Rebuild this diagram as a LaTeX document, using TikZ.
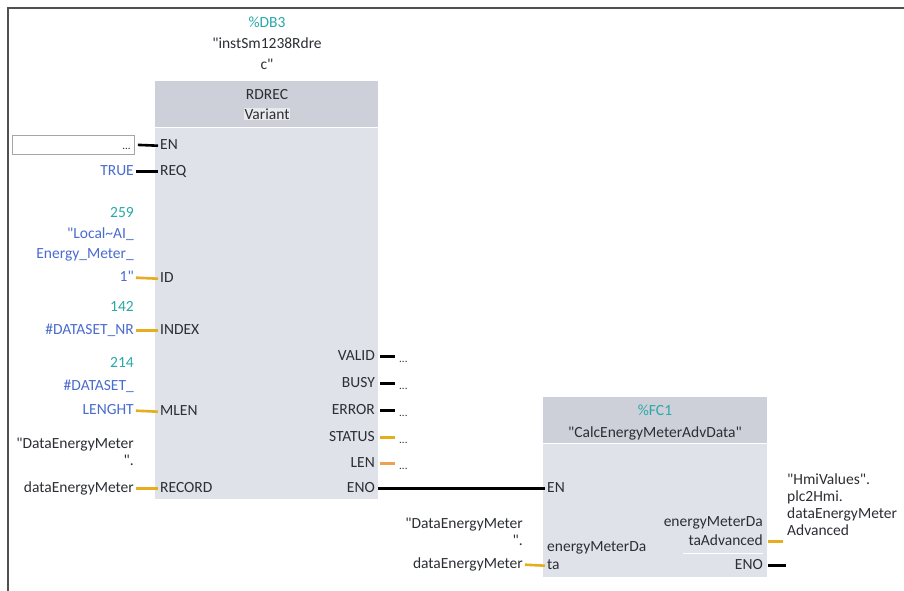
\documentclass[tikz,border=0pt]{standalone}
\usepackage{fontspec}
\setmainfont{Carlito}[Ligatures=TeXOff]
\newcommand{\sq}{"}
\definecolor{txt}{HTML}{2C2E33}
\definecolor{constteal}{HTML}{2AA8A8}
\definecolor{tagblue}{HTML}{4A6CCF}
\definecolor{hdrgray}{HTML}{CDD0D9}
\definecolor{bodygray}{HTML}{E0E2E9}
\definecolor{wireorange}{HTML}{E6AE1E}
\definecolor{wirelen}{HTML}{EFA050}
\definecolor{frame}{HTML}{505050}
\tikzset{
  lbl/.style={font=\fontsize{15.5}{18}\selectfont, text=txt, inner sep=0pt, yshift=-2pt},
  pinl/.style={lbl, anchor=mid west},
  pinr/.style={lbl, anchor=mid east},
  argl/.style={lbl, anchor=mid east},
  argr/.style={lbl, anchor=mid west},
  cst/.style={text=constteal},
  tag/.style={text=tagblue},
  wire/.style={line width=2.6pt, black},
  owire/.style={line width=2.6pt, wireorange},
  lwire/.style={line width=2.6pt, wirelen},
  hdrbox/.style={fill=hdrgray, draw=none, inner sep=0pt, anchor=north west},
  bodybox/.style={fill=bodygray, draw=none, inner sep=0pt, anchor=north west},
  dots/.style={lbl, anchor=mid west, font=\fontsize{11}{13}\selectfont}
}
\begin{document}
\begin{tikzpicture}[x=1pt, y=-1pt]
\useasboundingbox (0,0) rectangle (904,591);
\fill[white] (0,0) rectangle (904,591);
% network frame
\draw[frame, line width=1.6pt] (8,591) -- (8,8) -- (904,8);

% ---------- RDREC instance ----------
\node[hdrbox, minimum width=223pt, minimum height=46pt] (rdHead) at (155,81) {};
\node[bodybox, minimum width=223pt, minimum height=372pt] (rdBody) at (155,127) {};
\draw[white, line width=0.8pt] (rdHead.south west) -- (rdHead.south east);
\node[lbl, cst] (dbNum) at (267,20) {\%DB3};
\node[lbl] (dbName1) at (267,41) {\sq instSm1238Rdre};
\node[lbl] (dbName2) at (267,62) {c\sq};
\node[lbl] (rdType) at (267,93) {RDREC};
\node[lbl, fill=hdrgray!45!white, inner sep=1pt] (rdVar) at (267,112) {Variant};

% input pins
\node[pinl] (pEN) at (160,145) {EN};
\node[pinl] (pREQ) at (160,171) {REQ};
\node[pinl] (pID) at (160,278) {ID};
\node[pinl] (pINDEX) at (160,330) {INDEX};
\node[pinl] (pMLEN) at (160,411) {MLEN};
\node[pinl] (pRECORD) at (160,488) {RECORD};

% output pins
\node[pinr] (pVALID) at (375,356) {VALID};
\node[pinr] (pBUSY) at (375,383) {BUSY};
\node[pinr] (pERROR) at (375,410) {ERROR};
\node[pinr] (pSTATUS) at (375,437) {STATUS};
\node[pinr] (pLEN) at (375,463) {LEN};
\node[pinr] (pENO) at (375,488) {ENO};

% EN operand box
\node[draw=gray!70, fill=white, line width=0.8pt, minimum width=122pt, minimum height=19pt, inner sep=0pt, anchor=north west] (enBox) at (12,135) {};
\node[dots, anchor=mid east] (enDots) at ([xshift=-4pt]enBox.east) {...};

% input operands
\node[argl, tag] (aREQ) at (134,171) {TRUE};
\node[argl, cst] (aID0) at (134,213) {259};
\node[argl, tag] (aID1) at (134,234) {\sq Local\textasciitilde AI\_};
\node[argl, tag] (aID2) at (134,254) {Energy\_Meter\_};
\node[argl, tag] (aID) at (134,277) {1\sq};
\node[argl, cst] (aIDX0) at (134,307) {142};
\node[argl, tag] (aIDX) at (134,330) {\#DATASET\_NR};
\node[argl, cst] (aML0) at (134,363) {214};
\node[argl, tag] (aML1) at (134,386) {\#DATASET\_};
\node[argl, tag] (aML) at (134,410) {LENGHT};
\node[argl] (aRec0) at (134,444) {\sq DataEnergyMeter};
\node[argl] (aRec1) at (134,461) {\sq.};
\node[argl] (aRec) at (134,488) {dataEnergyMeter};

% input wires (raised slightly to the middle of the capitals)
\draw[wire] ([xshift=3pt]enBox.east) -- ([xshift=-2pt,yshift=1.3pt]pEN.mid west);
\draw[wire] ([xshift=2pt,yshift=1.3pt]aREQ.mid east) -- ([xshift=-2pt,yshift=1.3pt]pREQ.mid west);
\draw[owire] ([xshift=2pt,yshift=1.3pt]aID.mid east) -- ([xshift=-2pt,yshift=1.3pt]pID.mid west);
\draw[owire] ([xshift=2pt,yshift=1.3pt]aIDX.mid east) -- ([xshift=-2pt,yshift=1.3pt]pINDEX.mid west);
\draw[owire] ([xshift=2pt,yshift=1.3pt]aML.mid east) -- ([xshift=-2pt,yshift=1.3pt]pMLEN.mid west);
\draw[owire] ([xshift=2pt,yshift=1.3pt]aRec.mid east) -- ([xshift=-2pt,yshift=1.3pt]pRECORD.mid west);

% output stubs
\foreach \p in {VALID,BUSY,ERROR}{
  \draw[wire] ([xshift=5pt,yshift=1.3pt]p\p.mid east) -- ([xshift=20pt,yshift=1.3pt]p\p.mid east);
  \node[dots] (o\p) at ([xshift=24pt]p\p.mid east) {...};
}
\draw[owire] ([xshift=5pt,yshift=1.3pt]pSTATUS.mid east) -- ([xshift=20pt,yshift=1.3pt]pSTATUS.mid east);
\node[dots] (oSTATUS) at ([xshift=24pt]pSTATUS.mid east) {...};
\draw[lwire] ([xshift=5pt,yshift=1.3pt]pLEN.mid east) -- ([xshift=20pt,yshift=1.3pt]pLEN.mid east);
\node[dots] (oLEN) at ([xshift=24pt]pLEN.mid east) {...};

% ---------- CalcEnergyMeterAdvData call ----------
\node[hdrbox, minimum width=224pt, minimum height=46pt] (fcHead) at (543,397) {};
\node[bodybox, minimum width=224pt, minimum height=134pt] (fcBody) at (543,443) {};
\draw[white, line width=0.8pt] (fcHead.south west) -- (fcHead.south east);
\node[lbl, cst] (fcNum) at (655,408) {\%FC1};
\node[lbl] (fcName) at (655,431) {\sq CalcEnergyMeterAdvData\sq};

\node[pinl] (qEN) at (547,488) {EN};
\node[pinl] (qIn0) at (547,547) {energyMeterDa};
\node[pinl] (qIn) at (547,565) {ta};
\node[pinr] (qOut0) at (763,522) {energyMeterDa};
\node[pinr] (qOut) at (763,541) {taAdvanced};
\node[pinr] (qENO) at (763,565) {ENO};
\draw[white, line width=0.9pt] (683,553) -- (763,553);

\node[argl] (bIn0) at (523,524) {\sq DataEnergyMeter};
\node[argl] (bIn1) at (523,541) {\sq.};
\node[argl] (bIn) at (523,564) {dataEnergyMeter};

\node[argr] (bOut0) at (787,480) {\sq HmiValues\sq.};
\node[argr] (bOut1) at (787,497) {plc2Hmi.};
\node[argr] (bOut2) at (787,514) {dataEnergyMeter};
\node[argr] (bOut) at (787,531) {Advanced};

% power flow ENO -> EN
\draw[wire] ([xshift=3pt,yshift=1.3pt]pENO.mid east) -- ([xshift=-2pt,yshift=1.3pt]qEN.mid west);
\draw[owire] ([xshift=2pt,yshift=1.3pt]bIn.mid east) -- ([xshift=-2pt,yshift=1.3pt]qIn.mid west);
\draw[owire] ([xshift=5pt,yshift=1.3pt]qOut.mid east) -- ([xshift=20pt,yshift=1.3pt]qOut.mid east);
\draw[wire] ([xshift=5pt,yshift=1.3pt]qENO.mid east) -- ([xshift=23pt,yshift=1.3pt]qENO.mid east);
\end{tikzpicture}
\end{document}
